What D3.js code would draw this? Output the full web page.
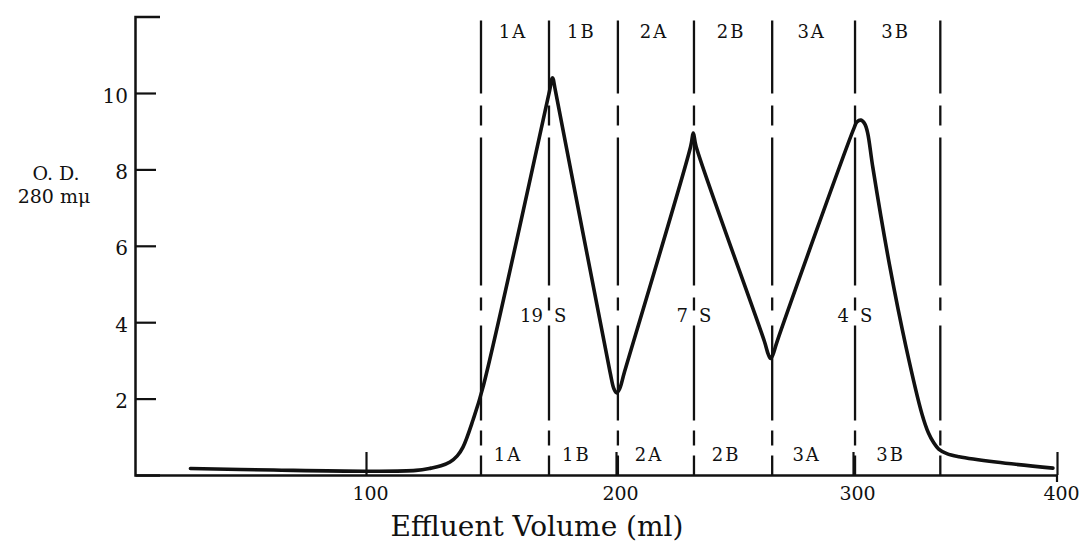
<!DOCTYPE html>
<meta charset="utf-8">
<script src="https://d3js.org/d3.v7.min.js"></script>
<style>
  body { margin: 0; background: #fff; }
  text { font-family: "DejaVu Serif", serif; fill: #111; }
</style>
<body>
<div id="chart"></div>
<script>
// effluent volume (ml) and optical density
var volume = [24, 60, 100, 120, 126, 130, 133.6, 136.5, 138.8, 142.8, 146.8,
              173.4, 174.6, 175.8, 197.6, 199.2, 200.3, 201.5, 203.6,
              231.5, 232.6, 233.8, 262.6, 264.3, 265.2, 266.2, 268,
              300.5, 301.9, 303.9, 305.8, 307.2, 309.7, 317.9, 326, 333.8,
              337, 339.5, 342, 346, 352, 370, 398]
var od = [0.17, 0.13, 0.1, 0.12, 0.18, 0.24, 0.34, 0.5, 0.73, 1.44, 2.3,
          10.05, 10.4, 10.05, 2.7, 2.25, 2.15, 2.25, 2.7,
          8.6, 8.95, 8.6, 3.5, 3.15, 3.05, 3.15, 3.5,
          9.08, 9.24, 9.29, 9.19, 8.95, 8.06, 5.5, 3.35, 1.6,
          1.1, 0.85, 0.68, 0.56, 0.48, 0.34, 0.18]

// fraction cut points (ml)
var cuts = [146, 173.2, 200.8, 232.9, 265.9, 301, 342.8]
var fractions = ["1A", "1B", "2A", "2B", "3A", "3B"]
// sedimentation labels on the 19S / 7S / 4S cuts
var peakCuts = [1, 3, 5]
var peakNames = ["19", "7", "4"]

var xTicks = [100, 200, 300, 400]
var yTicks = [2, 4, 6, 8, 10]

var width = 1083, height = 542

var svg = d3.select("#chart").append("svg")
    .attr("width", width)
    .attr("height", height)

// the printed axis is not evenly spaced, so a piecewise scale follows it
var x = d3.scaleLinear()
    .domain([0, 100, 200, 300, 400])
    .range([135, 366, 616, 853, 1057])
var y = d3.scaleLinear()
    .domain([0, 12])
    .range([475, 16.6])

var ink = "#111"

// y axis, ticks pointing inward, capped at the top
var yAxis = svg.append("g")
    .attr("transform", "translate(" + x(0) + ",0)")
    .call(d3.axisLeft(y).tickValues(yTicks).tickSize(-21).tickSizeOuter(-25).tickPadding(7))
yAxis.select(".domain").attr("stroke", ink).attr("stroke-width", 2.5)
yAxis.selectAll(".tick line").attr("stroke", ink).attr("stroke-width", 2.2)
yAxis.selectAll(".tick text")
    .style("font-family", "DejaVu Serif")
    .style("font-size", "20px")
    .attr("fill", ink)
    .attr("dy", "0.45em")

// x axis
var xAxis = svg.append("g")
    .attr("transform", "translate(0," + y(0) + ")")
    .call(d3.axisBottom(x).tickValues(xTicks).tickSize(-23).tickSizeOuter(0).tickPadding(12))
xAxis.select(".domain").attr("stroke", ink).attr("stroke-width", 2.5)
xAxis.selectAll(".tick line").attr("stroke", ink).attr("stroke-width", 2.2)
xAxis.selectAll(".tick text")
    .style("font-family", "DejaVu Serif")
    .style("font-size", "19px")
    .attr("fill", ink)
    .attr("dx", 4)

// the last tick crosses the axis line
svg.append("line")
    .attr("x1", x(400)).attr("x2", x(400))
    .attr("y1", y(0)).attr("y2", y(0) + 7)
    .attr("stroke", ink).attr("stroke-width", 2.2)

// fraction cut lines
svg.selectAll(".cut")
    .data(cuts)
    .enter()
    .append("line")
    .attr("class", "cut")
    .attr("x1", function(d) { return x(d) })
    .attr("x2", function(d) { return x(d) })
    .attr("y1", y(11.9))
    .attr("y2", y(0))
    .attr("stroke", ink)
    .attr("stroke-width", 2.3)
    .attr("stroke-dasharray", "73,12,20,12,148,12,13,15,95,10,15,10,40")

// elution curve
var line = d3.line()
    .x(function(d, i) { return x(volume[i]) })
    .y(function(d) { return y(d) })
    .curve(d3.curveCatmullRom.alpha(0.5))

svg.append("path")
    .datum(od)
    .attr("d", line)
    .attr("fill", "none")
    .attr("stroke", ink)
    .attr("stroke-width", 3.6)
    .attr("stroke-linejoin", "round")
    .attr("stroke-linecap", "round")

// fraction names, top and bottom
function mid(i) { return (x(cuts[i]) + x(cuts[i + 1])) / 2 }

svg.selectAll(".topLabel")
    .data(fractions)
    .enter()
    .append("text")
    .attr("x", function(d, i) { return mid(i) - 2 })
    .attr("y", 38)
    .attr("text-anchor", "middle")
    .style("font-size", "18px")
    .style("letter-spacing", "2px")
    .text(function(d) { return d })

svg.selectAll(".bottomLabel")
    .data(fractions)
    .enter()
    .append("text")
    .attr("x", function(d, i) { return mid(i) - 7 })
    .attr("y", 461)
    .attr("text-anchor", "middle")
    .style("font-size", "18px")
    .style("letter-spacing", "2px")
    .text(function(d) { return d })

// 19 S, 7 S, 4 S
svg.selectAll(".peakNum")
    .data(peakNames)
    .enter()
    .append("text")
    .attr("x", function(d, i) { return x(cuts[peakCuts[i]]) - 6 })
    .attr("y", 322)
    .attr("text-anchor", "end")
    .style("font-size", "18px")
    .text(function(d) { return d })

svg.selectAll(".peakS")
    .data(peakNames)
    .enter()
    .append("text")
    .attr("x", function(d, i) { return x(cuts[peakCuts[i]]) + 5 })
    .attr("y", 322)
    .style("font-size", "18px")
    .text("S")

// axis titles
svg.append("text")
    .attr("x", 56)
    .attr("y", 180)
    .attr("text-anchor", "middle")
    .style("font-size", "19px")
    .text("O. D.")
svg.append("text")
    .attr("x", 54)
    .attr("y", 203)
    .attr("text-anchor", "middle")
    .style("font-size", "19px")
    .text("280 mμ")

svg.append("text")
    .attr("x", 537)
    .attr("y", 536)
    .attr("text-anchor", "middle")
    .style("font-size", "28px")
    .text("Effluent Volume (ml)")
</script>
</body>
